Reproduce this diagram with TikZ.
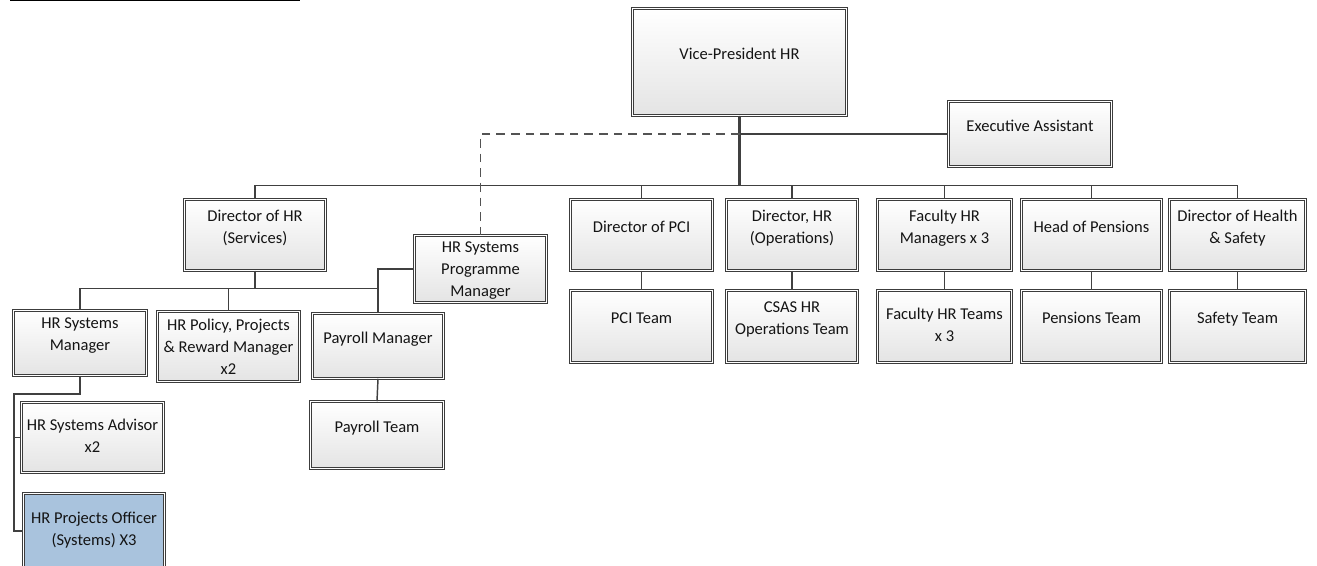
\documentclass[tikz,border=0pt]{standalone}
\usepackage{fontspec}
\setmainfont{Carlito}
\usetikzlibrary{shadows}
\definecolor{linecol}{HTML}{404040}
\definecolor{boxline}{HTML}{3C3C3C}
\definecolor{boxfill}{HTML}{E4E4E4}
\definecolor{pofill}{HTML}{A9C3DD}
\definecolor{txtcol}{HTML}{141414}
\tikzset{
  box/.style 2 args={draw=boxline, double=white, double distance=1.1pt, line width=0.75pt,
    top color=white, bottom color=boxfill, minimum width={#1*0.75pt-2.6pt}, minimum height={#2*0.75pt-2.6pt},
    inner sep=0pt, align=center, text depth=12.6pt,
    drop shadow={opacity=0.22, shadow xshift=1.6pt, shadow yshift=-1.6pt}},
  mid/.style={text depth=3pt},
  tall/.style={text depth=0pt},
  link/.style={draw=linecol, line width=1.1pt},
  trunk/.style={draw=linecol, line width=2pt},
  dotline/.style={draw=linecol!90, line width=0.9pt, dash pattern=on 6.5pt off 4.5pt}
}
\begin{document}
\begin{tikzpicture}[x=0.75pt, y=-0.75pt, every node/.style={font=\fontsize{12.4}{16.5}\selectfont, text=txtcol}]

\useasboundingbox (0,0) rectangle (1317,566);
\clip (0,0) rectangle (1317,566);

\draw[line width=1.2pt] (10,0.5) -- (300,0.5);

\node[box={217}{110}] (vp) at (739.5,62) {Vice-President HR};

\node[box={166}{68}] (ea) at (1030,134) {Executive Assistant};

\node[box={144}{74}] (dirsrv) at (255,235) {Director of HR\\(Services)};

\node[box={135}{70}, tall] (hrspm) at (480.5,269) {HR Systems\\Programme\\Manager};

\node[box={136}{68}] (hrsm) at (80,343) {HR Systems\\Manager};

\node[box={145}{73}, tall] (policy) at (228.5,346.5) {HR Policy, Projects\\\& Reward Manager\\x2};

\node[box={134}{68}] (paymgr) at (378,346) {Payroll Manager};

\node[box={136}{70}] (payteam) at (377,435) {Payroll Team};

\node[box={145}{74}] (pci) at (641.5,235) {Director of PCI};

\node[box={145}{75}] (pciteam) at (641.5,326.5) {PCI Team};

\node[box={134}{74}] (ops) at (792,235) {Director, HR\\(Operations)};

\node[box={134}{75}] (csas) at (792,326.5) {CSAS HR\\Operations Team};

\node[box={137}{74}] (fac) at (944.5,235) {Faculty HR\\Managers x 3};

\node[box={137}{75}, mid] (facteam) at (944.5,326.5) {Faculty HR Teams\\x 3};

\node[box={143}{74}] (pen) at (1091.5,235) {Head of Pensions};

\node[box={143}{75}] (penteam) at (1091.5,326.5) {Pensions Team};

\node[box={139}{74}] (hs) at (1237.5,235) {Director of Health\\\& Safety};

\node[box={139}{75}] (safety) at (1237.5,326.5) {Safety Team};

\node[box={145}{73}, mid] (adv) at (92.5,437.5) {HR Systems Advisor\\x2};

\node[box={144}{78}, mid, top color=pofill, bottom color=pofill] (po) at (94,531) {HR Projects Officer\\(Systems) X3};

\draw[link] (vp.south) -- ++(0,70) -| (dirsrv.north);

\draw[link] (vp.south) -- ++(0,70) -| (pci.north);

\draw[link] (vp.south) -- ++(0,70) -| (ops.north);

\draw[link] (vp.south) -- ++(0,70) -| (fac.north);

\draw[link] (vp.south) -- ++(0,70) -| (pen.north);

\draw[link] (vp.south) -- ++(0,70) -| (hs.north);

\draw[trunk] (vp.south) -- ++(0,70);

\draw[link] (vp.south |- ea.west) -- (ea.west);

\draw[dotline] (vp.south |- ea.west) -| (hrspm.north);

\draw[link] (dirsrv.south) -- ++(0,18) -| (hrsm.north);

\draw[link] (dirsrv.south) -- ++(0,18) -| (policy.north);

\draw[link] (dirsrv.south) -- ++(0,18) -| (paymgr.north);

\draw[link] (hrspm.west) -| (paymgr.north);

\draw[link] (paymgr.south) -- (payteam.north);

\draw[link] (pci.south) -- (pciteam.north);

\draw[link] (ops.south) -- (csas.north);

\draw[link] (fac.south) -- (facteam.north);

\draw[link] (pen.south) -- (penteam.north);

\draw[link] (hs.south) -- (safety.north);

\coordinate (spine) at (14,394);

\draw[link] (hrsm.south) |- (spine) |- (adv.west);

\draw[link] (spine) |- (po.west);

\end{tikzpicture}
\end{document}
